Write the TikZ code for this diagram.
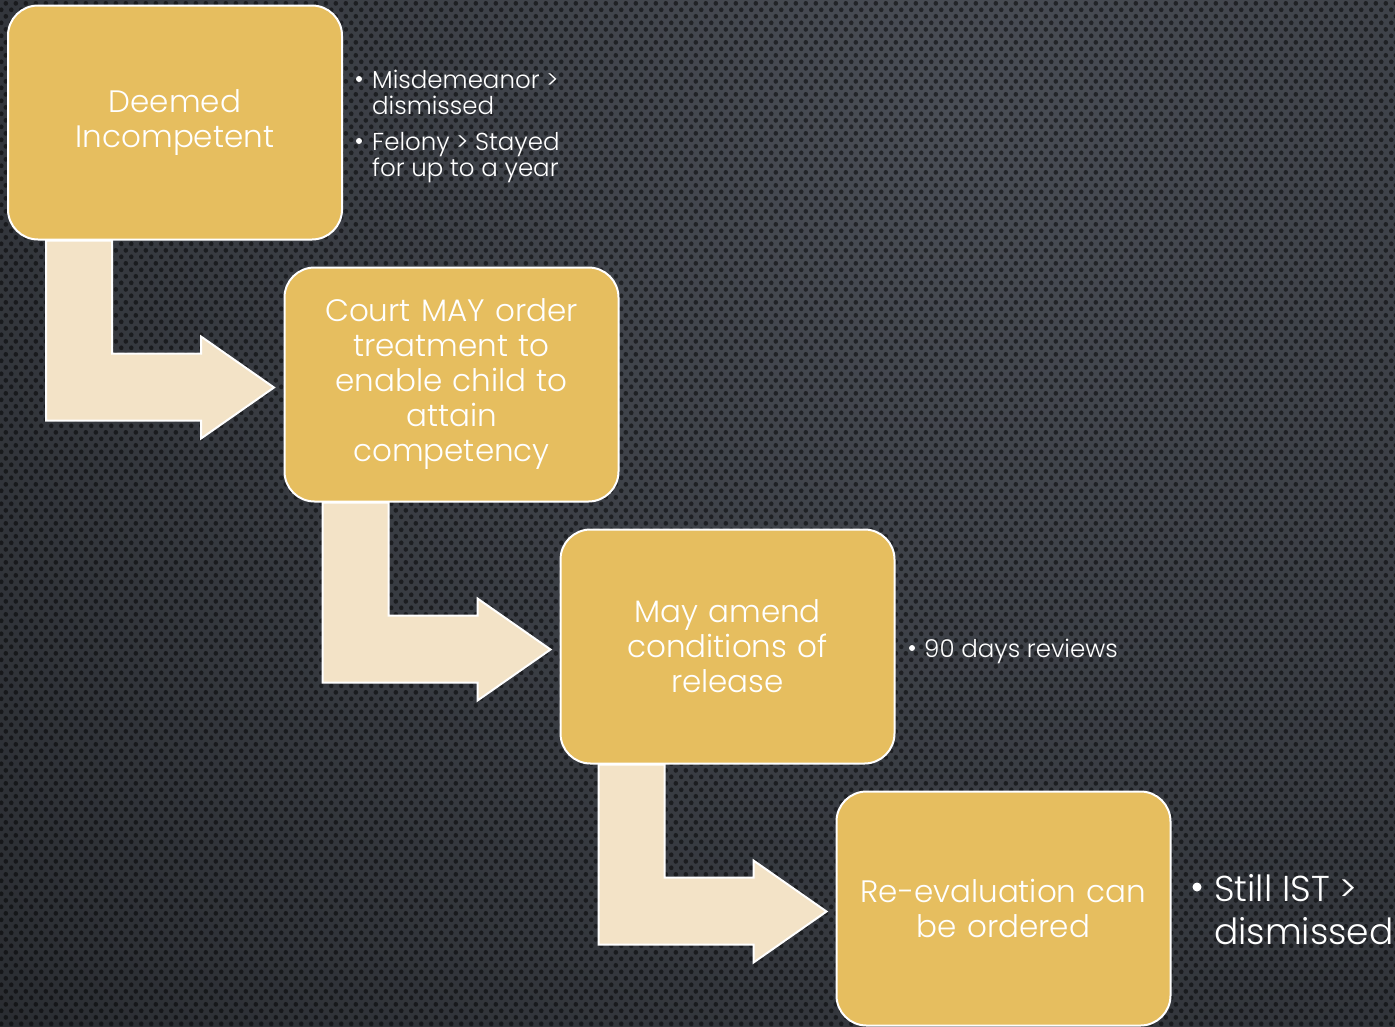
\documentclass[tikz,border=0pt]{standalone}
\usepackage{fontspec}
\setmainfont{Poppins}[UprightFont={* Light}]
\usetikzlibrary{patterns.meta}
\definecolor{boxfill}{HTML}{E6BE5F}
\definecolor{arrowfill}{HTML}{F3E3C7}
\definecolor{bgtop}{HTML}{4A4E56}
\definecolor{bgbot}{HTML}{17191C}
\pgfdeclarelayer{bglayer}
\pgfdeclarelayer{arrowlayer}
\pgfsetlayers{bglayer,arrowlayer,main}
\tikzdeclarepattern{name=bgdots, type=uncolored,
  bounding box={(0pt,0pt) and (10pt,13.4pt)}, tile size={(10pt,13.4pt)},
  code={\fill (2.5pt,3.35pt) circle (2.5pt); \fill (7.5pt,10.05pt) circle (2.5pt);}}
\tikzset{
  stepbox/.style={draw=white, line width=2pt, fill=boxfill, rounded corners=30pt,
    minimum width=334pt, minimum height=234pt, text width=325pt, align=center,
    font=\fontsize{31}{35}\selectfont, text=white, inner sep=0pt},
  bentarrow/.style={draw=white, line width=2pt, fill=arrowfill, line join=miter},
  note/.style={text=white, font=\fontsize{24.5}{26}\selectfont, inner sep=0pt},
  bignote/.style={text=white, font=\fontsize{36}{43}\selectfont, inner sep=0pt},
  dotb/.style={circle, fill=white, inner sep=0pt, minimum size=#1},
}
\begin{document}
\begin{tikzpicture}[x=1pt,y=-1pt]
\useasboundingbox (0,0) rectangle (1395,1026);
\begin{pgfonlayer}{bglayer}
  \begin{scope}
    \clip (0,0) rectangle (1395,1026);
    \fill[bgbot] (0,0) rectangle (1395,1026);
    \shade[inner color=bgtop, outer color=bgbot] (950,120) circle (2100);
    \fill[pattern=bgdots, pattern color=black, opacity=0.5] (0,0) rectangle (1395,1026);
  \end{scope}
\end{pgfonlayer}

\node[stepbox] (b1) at (175,122.5) {Deemed\\Incompetent};
\node[stepbox] (b2) at (451.5,384.5) {Court MAY order\\treatment to\\enable child to\\attain\\competency};
\node[stepbox] (b3) at (727.5,646.5) {May amend\\conditions of\\release};
\node[stepbox] (b4) at (1003.5,908.5) {Re-evaluation can\\be ordered};

\begin{pgfonlayer}{arrowlayer}
  \foreach \s in {b1,b2,b3} {
    \begin{scope}[shift={(\s.south west)}]
      \draw[bentarrow] (39,0) -- (105,0) -- (105,113) -- (194,113) -- (194,96)
        -- (267,147) -- (194,198) -- (194,180) -- (39,180) -- cycle;
    \end{scope}
  }
\end{pgfonlayer}

\node[dotb=6pt] (t1a) at (359,79) {};
\node[note, anchor=base west] (t1) at (372,88) {Misdemeanor >};
\node[note, anchor=base west] (t2) at (372,114) {dismissed};
\node[dotb=6pt] (t3a) at (359,141) {};
\node[note, anchor=base west] (t3) at (372,150) {Felony > Stayed};
\node[note, anchor=base west] (t4) at (372,176) {for up to a year};

\node[dotb=6pt] (t5a) at (912,648) {};
\node[note, anchor=base west] (t5) at (924,657) {90 days reviews};

\node[dotb=9pt] (t6a) at (1197,887) {};
\node[bignote, anchor=base west] (t6) at (1214,901) {Still IST >};
\node[bignote, anchor=base west] (t7) at (1214,944) {dismissed};
\end{tikzpicture}
\end{document}
